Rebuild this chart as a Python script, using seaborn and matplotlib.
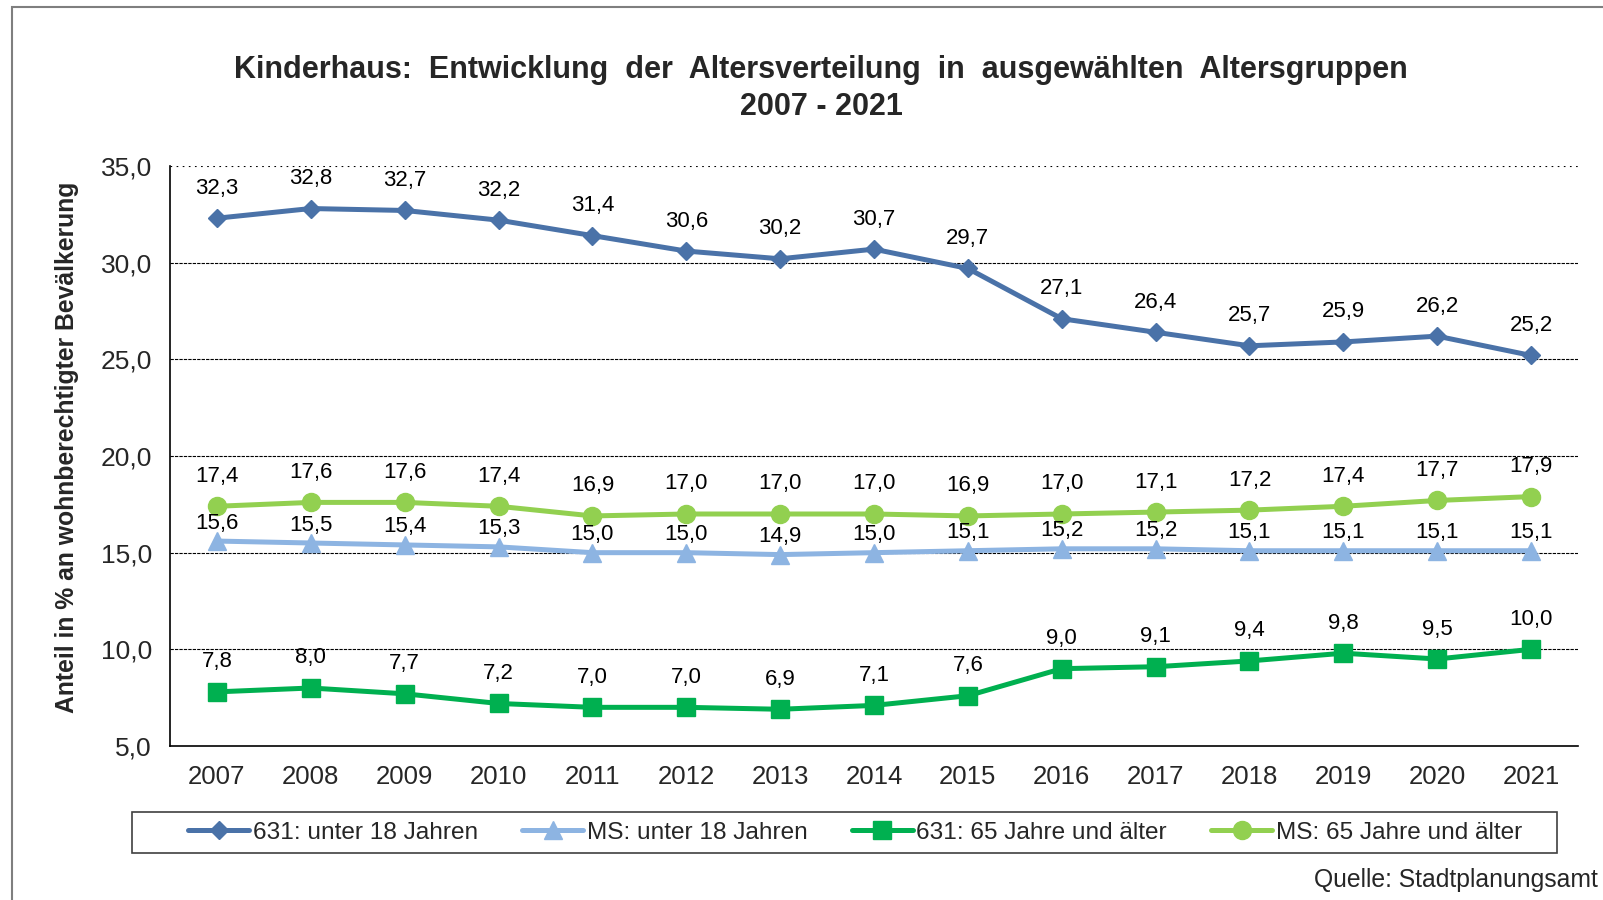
import pandas as pd
import seaborn as sns
import matplotlib.pyplot as plt
from matplotlib.patches import Rectangle
from matplotlib.ticker import FuncFormatter, FixedLocator

# Daten
years = list(range(2007, 2022))
kh_u18 = [32.3, 32.8, 32.7, 32.2, 31.4, 30.6, 30.2, 30.7, 29.7, 27.1, 26.4, 25.7, 25.9, 26.2, 25.2]
ms_u18 = [15.6, 15.5, 15.4, 15.3, 15.0, 15.0, 14.9, 15.0, 15.1, 15.2, 15.2, 15.1, 15.1, 15.1, 15.1]
kh_65 = [7.8, 8.0, 7.7, 7.2, 7.0, 7.0, 6.9, 7.1, 7.6, 9.0, 9.1, 9.4, 9.8, 9.5, 10.0]
ms_65 = [17.4, 17.6, 17.6, 17.4, 16.9, 17.0, 17.0, 17.0, 16.9, 17.0, 17.1, 17.2, 17.4, 17.7, 17.9]

series_names = ["631: unter 18 Jahren", "MS: unter 18 Jahren",
                "631: 65 Jahre und älter", "MS: 65 Jahre und älter"]

sns.set_style("white")
plt.rcParams["font.family"] = ["Liberation Sans", "DejaVu Sans"]

W, H = 1603, 900


def de(v):
    return f"{v:.1f}".replace(".", ",")


fig = plt.figure(figsize=(W / 100, H / 100), dpi=100)
ax = fig.add_axes([170 / W, 1 - 746 / H, 1408 / W, 580 / H])

# Reihenfolge der Legende: blau, hellblau, grün, hellgrün
styles = [
    (kh_u18, "#4A72A8", "D", 9.5, 30),
    (ms_u18, "#8DB4E2", "^", 13, 18),
    (kh_65, "#00B050", "s", 12.5, 30),
    (ms_65, "#92D050", "o", 13, 30),
]

for (vals, col, mk, ms, off), name in zip(styles, series_names):
    df = pd.DataFrame({"jahr": years, "wert": vals})
    sns.lineplot(data=df, x="jahr", y="wert", ax=ax, color=col, linewidth=3.6,
                 marker=mk, markersize=ms, markeredgecolor=col, markeredgewidth=1,
                 label=name)
    for x, y in zip(years, vals):
        ax.annotate(de(y), (x, y), xytext=(0, off * 0.72), textcoords="offset points",
                    ha="center", va="center", fontsize=16, color="black")

ax.set_xlim(2006.5, 2021.5)
ax.set_ylim(5, 35)
ax.set_yticks([5, 10, 15, 20, 25, 30, 35])
ax.yaxis.set_major_formatter(FuncFormatter(lambda v, p: de(v)))
ax.set_xticks(years)
ax.set_xticklabels([str(y) for y in years])
ax.xaxis.set_minor_locator(FixedLocator([y - 0.5 for y in years] + [2021.5]))
ax.tick_params(axis="x", which="major", length=0, labelsize=18.5, pad=14)
ax.tick_params(axis="x", which="minor", length=6, width=1, color="black", direction="out")
ax.tick_params(axis="y", which="major", length=6, width=1, color="black",
               direction="out", labelsize=19, pad=7)

for y in [10, 15, 20, 25, 30]:
    ax.axhline(y, color="black", linewidth=0.8, linestyle=(0, (3, 1)), zorder=0)
ax.axhline(35, color="black", linewidth=0.8, linestyle=(0, (1.5, 4)), zorder=0)

for s in ["top", "right"]:
    ax.spines[s].set_visible(False)
for s in ["left", "bottom"]:
    ax.spines[s].set_color("black")
    ax.spines[s].set_linewidth(1.2)

ax.set_xlabel("")
ax.set_ylabel("")
fig.text(67.5 / W, 1 - 447 / H, "Anteil in % an wohnberechtigter Bevälkerung",
         rotation=90, ha="center", va="center", fontsize=17.8, fontweight="bold")

fig.text(821 / W, 1 - 70 / H,
         "Kinderhaus:  Entwicklung  der  Altersverteilung  in  ausgewählten  Altersgruppen",
         ha="center", va="center", fontsize=22, fontweight="bold")
fig.text(821 / W, 1 - 107 / H, "2007 - 2021",
         ha="center", va="center", fontsize=22, fontweight="bold")

# Legende ohne eigenen Rahmen, Rahmen separat
leg = ax.legend(loc="center", ncol=4, mode="expand",
                bbox_to_anchor=(188 / W, 1 - 853 / H, (1522 - 188) / W, 41 / H),
                bbox_transform=fig.transFigure, fontsize=17.6, handlelength=2.5,
                handletextpad=0.15, frameon=False, borderaxespad=0, borderpad=0)
fig.patches.append(Rectangle((132 / W, 1 - 853 / H), 1425 / W, 41 / H,
                             transform=fig.transFigure, fill=False,
                             edgecolor="#404040", linewidth=1.2))

fig.text(1598 / W, 1 - 880 / H, "Quelle: Stadtplanungsamt",
         ha="right", va="center", fontsize=17.8)

fig.patches.append(Rectangle((12 / W, -0.1), 1.2, 1.1 - 7 / H,
                             transform=fig.transFigure, fill=False,
                             edgecolor="#7f7f7f", linewidth=1.5))

fig.savefig("out.png", dpi=100)
